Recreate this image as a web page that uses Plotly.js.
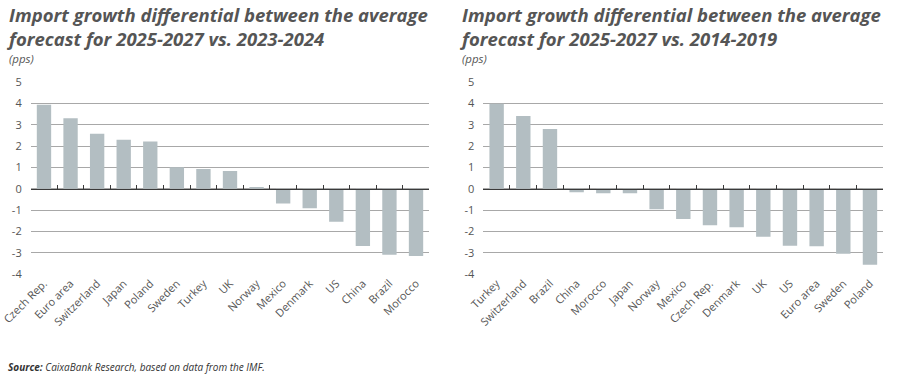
<!DOCTYPE html>
<html>
<head>
<meta charset="utf-8">
<script src="https://cdn.plot.ly/plotly-3.0.1.min.js"></script>
<style>html,body{margin:0;padding:0;background:#fff;}#chart{width:900px;height:387px;}</style>
</head>
<body>
<div id="chart"></div>
<script>
// Left chart: 2025-2027 vs. 2023-2024
const categoriesLeft = ["Czech Rep.", "Euro area", "Switzerland", "Japan", "Poland", "Sweden", "Turkey", "UK", "Norway", "Mexico", "Denmark", "US", "China", "Brazil", "Morocco"];
const valuesLeft = [3.93, 3.30, 2.57, 2.29, 2.21, 1.00, 0.92, 0.83, 0.08, -0.70, -0.92, -1.55, -2.69, -3.10, -3.16];

// Right chart: 2025-2027 vs. 2014-2019
const categoriesRight = ["Turkey", "Switzerland", "Brazil", "China", "Morocco", "Japan", "Norway", "Mexico", "Czech Rep.", "Denmark", "UK", "US", "Euro area", "Sweden", "Poland"];
const valuesRight = [3.98, 3.41, 2.80, -0.17, -0.22, -0.22, -0.97, -1.42, -1.72, -1.81, -2.25, -2.67, -2.70, -3.05, -3.57];

const yTickVals = [-4, -3, -2, -1, 0, 1, 2, 3, 4, 5];
const yTickText = ["-4", "-3", "-2", "-1", "0", "1", "2", "3", "4", "5"];
const titleLeft = "Import growth differential between the average<br>forecast for 2025-2027 vs. 2023-2024";
const titleRight = "Import growth differential between the average<br>forecast for 2025-2027 vs. 2014-2019";
const unitLabel = "(pps)";
const sourceText = "<b><i>Source:</i></b> <i>CaixaBank Research, based on data from the IMF.</i>";

const W = 900, H = 387;
const barColor = "#b3bec2";
const gridColor = "#a8a8a8";
const textColor = "#555555";
const fontFamily = "'Open Sans', 'Noto Sans', sans-serif";

const yRange = [-4, 5];
const yDomain = [1 - 274 / H, 1 - 82 / H];
const zeroPos = yDomain[0] + (0 - yRange[0]) / (yRange[1] - yRange[0]) * (yDomain[1] - yDomain[0]);
const xDomLeft = [30.7 / W, 429.3 / W];
const xDomRight = [483.3 / W, 883.3 / W];

const traces = [
  {type: "bar", x: categoriesLeft, y: valuesLeft, xaxis: "x", yaxis: "y",
   marker: {color: barColor}, hoverinfo: "x+y", showlegend: false},
  {type: "scatter", mode: "none", x: categoriesLeft, y: categoriesLeft.map(() => null),
   xaxis: "x2", yaxis: "y", hoverinfo: "skip", showlegend: false},
  {type: "bar", x: categoriesRight, y: valuesRight, xaxis: "x3", yaxis: "y2",
   marker: {color: barColor}, hoverinfo: "x+y", showlegend: false},
  {type: "scatter", mode: "none", x: categoriesRight, y: categoriesRight.map(() => null),
   xaxis: "x4", yaxis: "y2", hoverinfo: "skip", showlegend: false}
];

function catAxis(domain, anchor) {
  return {domain: domain, anchor: anchor, type: "category", tickangle: -45,
    showgrid: false, showline: false, zeroline: false, ticks: "",
    tickfont: {family: fontFamily, size: 11, color: textColor}, fixedrange: true};
}
function zeroAxis(domain, over) {
  return {domain: domain, overlaying: over, matches: over, anchor: "free", position: zeroPos,
    type: "category", showticklabels: false, showgrid: false, zeroline: false,
    showline: true, linecolor: "#3a3a3a", linewidth: 1.2,
    ticks: "inside", tickson: "boundaries", ticklen: 4, tickwidth: 1, tickcolor: "#3a3a3a",
    fixedrange: true};
}
function valAxis(anchor) {
  return {domain: yDomain, anchor: anchor, range: yRange, tickvals: yTickVals, ticktext: yTickText,
    showgrid: true, gridcolor: gridColor, gridwidth: 1, zeroline: false, showline: false,
    ticks: "", ticklabelstandoff: 8,
    tickfont: {family: fontFamily, size: 11, color: textColor}, fixedrange: true};
}

function titleAnn(text, xPx) {
  return {text: "<b><i>" + text + "</i></b>", xref: "paper", yref: "paper",
    x: xPx / W, y: 1 - 1 / H, xanchor: "left", yanchor: "top", align: "left", showarrow: false,
    borderpad: 0, font: {family: fontFamily, size: 18.5, color: textColor}};
}
function unitAnn(xPx) {
  return {text: "<i>" + unitLabel + "</i>", xref: "paper", yref: "paper",
    x: xPx / W, y: 1 - 58 / H, xanchor: "left", yanchor: "middle", showarrow: false,
    borderpad: 0, font: {family: fontFamily, size: 11.5, color: textColor}};
}

const layout = {
  width: W, height: H,
  margin: {l: 0, r: 0, t: 0, b: 0},
  paper_bgcolor: "#fff", plot_bgcolor: "#fff",
  bargap: 0.46,
  font: {family: fontFamily, color: textColor},
  xaxis: catAxis(xDomLeft, "y"),
  xaxis2: zeroAxis(xDomLeft, "x"),
  yaxis: valAxis("x"),
  xaxis3: catAxis(xDomRight, "y2"),
  xaxis4: zeroAxis(xDomRight, "x3"),
  yaxis2: valAxis("x3"),
  annotations: [
    titleAnn(titleLeft, 6),
    titleAnn(titleRight, 459),
    unitAnn(8),
    unitAnn(461),
    {text: sourceText, xref: "paper", yref: "paper",
     x: 6 / W, y: 1 - 367 / H, xanchor: "left", yanchor: "middle", showarrow: false,
     font: {family: fontFamily, size: 10, color: "#333"}}
  ]
};

Plotly.newPlot("chart", traces, layout, {displayModeBar: false, staticPlot: true});
</script>
</body>
</html>
